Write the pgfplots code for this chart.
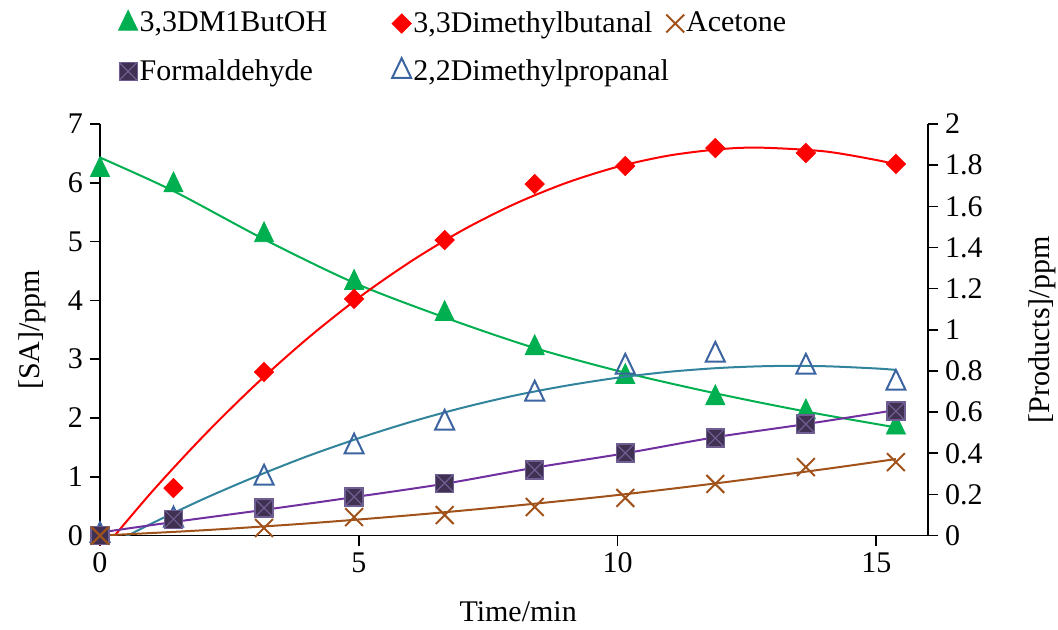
\documentclass[border=0pt]{standalone}
\usepackage{pgfplots}
\pgfplotsset{compat=1.18}
\usepackage{fontspec}
\setmainfont{Liberation Serif}
\definecolor{cgreen}{HTML}{00B050}
\definecolor{cred}{HTML}{FF0000}
\definecolor{cbrown}{HTML}{A0521A}
\definecolor{cteal}{HTML}{31849B}
\definecolor{cblue}{HTML}{3C64A0}
\definecolor{cpurple}{HTML}{7030A0}
\definecolor{csqfill}{HTML}{403152}
\definecolor{csqx}{HTML}{6E5E92}
\begin{document}
\begin{tikzpicture}[font=\fontsize{15}{18}\selectfont]
\useasboundingbox (-50pt,-47.2pt) rectangle (479pt,267.8pt);
\begin{axis}[
  at={(0,0)}, anchor=south west, scale only axis,
  width=414pt, height=205.8pt,
  xmin=0, xmax=16, ymin=0, ymax=7,
  axis x line*=bottom, axis y line*=left,
  axis line style={-, line width=0.8pt, black},
  xtick={0,5,10,15}, ytick={0,1,2,3,4,5,6,7},
  tick align=outside, major tick length=5pt,
  tick style={line width=0.8pt, black},
  /pgf/number format/assume math mode=true,
  xlabel={Time/min}, ylabel={[SA]/ppm},
  every axis x label/.style={at={(axis description cs:0.505,-0.185)}, anchor=center},
  every axis y label/.style={at={(axis description cs:-0.082,0.5)}, anchor=center, rotate=90},
]
\addplot[cgreen, line width=1pt, smooth] coordinates {
(0,6.43) (1.42,5.86) (3.17,5.04) (4.91,4.30) (6.66,3.71) (8.40,3.19) (10.15,2.77) (11.89,2.42) (13.64,2.11) (15.38,1.84)};
\addplot[only marks, mark=triangle*, mark size=5.5pt, mark options={yscale=1.2, fill=cgreen, draw=cgreen}] coordinates {
(0,6.22) (1.42,5.96) (3.17,5.11) (4.91,4.30) (6.66,3.77) (8.40,3.19) (10.15,2.70) (11.89,2.34) (13.64,2.10) (15.38,1.84)};
\end{axis}
\begin{axis}[
  at={(0,0)}, anchor=south west, scale only axis,
  width=414pt, height=205.8pt,
  xmin=0, xmax=16, ymin=0, ymax=2,
  axis x line=none, axis y line*=right,
  axis line style={-, line width=0.8pt, black},
  ytick={0,0.2,0.4,0.6,0.8,1,1.2,1.4,1.6,1.8,2},
  tick align=outside, major tick length=5pt,
  tick style={line width=0.8pt, black},
  /pgf/number format/assume math mode=true,
  yticklabel style={/pgf/number format/fixed},
  ylabel={[Products]/ppm},
  every axis y label/.style={at={(axis description cs:1.138,0.5)}, anchor=center, rotate=90},
  legend columns=3,
  legend cell align=left,
  legend style={at={(axis description cs:0.019,1.186)}, anchor=west, draw=none, fill=none,
    inner sep=0pt, nodes={inner sep=1pt}, row sep=10pt, column sep=0pt},
  legend image code/.code={\path[draw=none,fill=none] (0pt,-5pt) rectangle (10pt,5pt); \draw[#1] plot coordinates {(6pt,0pt)};},
]
% 3,3Dimethylbutanal
\addplot[cred, line width=1pt, smooth, forget plot] coordinates {
(0,-0.085) (1,0.212) (2,0.484) (3,0.732) (4,0.956) (5,1.156) (6,1.331) (7,1.483) (8,1.610) (9,1.713) (10,1.792) (11,1.847) (12,1.878) (12.77,1.885) (14,1.867) (15,1.825) (15.38,1.803)};
\addplot[only marks, mark=square*, mark size=3.4pt, mark options={rotate=45, fill=cred, draw=cred}, forget plot] coordinates {
(0,0) (1.42,0.231) (3.17,0.795) (4.91,1.150) (6.66,1.436) (8.40,1.708) (10.15,1.796) (11.89,1.883) (13.64,1.859) (15.38,1.806)};
% 2,2Dimethylpropanal
\addplot[cteal, line width=1pt, smooth, forget plot] coordinates {
(0,-0.069) (1,0.059) (2,0.178) (3,0.286) (4,0.385) (5,0.473) (6,0.552) (7,0.621) (8,0.680) (9,0.728) (10,0.767) (11,0.796) (12,0.815) (13,0.824) (14,0.823) (15,0.812) (15.38,0.805)};
\addplot[only marks, mark=triangle, mark size=5.5pt, mark options={yscale=1.2, draw=cblue, line width=1pt}, forget plot] coordinates {
(0,0) (1.42,0.076) (3.17,0.280) (4.91,0.431) (6.66,0.547) (8.40,0.688) (10.15,0.819) (11.89,0.877) (13.64,0.819) (15.38,0.741)};
% Formaldehyde
\addplot[cpurple, line width=1pt, smooth, forget plot] coordinates {
(0,0.015) (1.42,0.066) (3.17,0.125) (4.91,0.187) (6.66,0.252) (8.40,0.330) (10.15,0.400) (11.89,0.478) (13.64,0.542) (15.38,0.610)};
\addplot[only marks, mark=square*, mark size=4.5pt, mark options={fill=csqfill, draw=csqx, line width=0.6pt}, forget plot] coordinates {
(0,0) (1.42,0.080) (3.17,0.134) (4.91,0.188) (6.66,0.255) (8.40,0.319) (10.15,0.401) (11.89,0.474) (13.64,0.542) (15.38,0.605)};
\addplot[only marks, mark=x, mark size=6.3pt, mark options={draw=csqx, line width=0.6pt}, forget plot] coordinates {
(0,0) (1.42,0.080) (3.17,0.134) (4.91,0.188) (6.66,0.255) (8.40,0.319) (10.15,0.401) (11.89,0.474) (13.64,0.542) (15.38,0.605)};
% Acetone
\addplot[cbrown, line width=1pt, smooth, forget plot] coordinates {
(0,0) (2,0.026) (4,0.059) (6,0.099) (8,0.145) (10,0.197) (12,0.257) (14,0.323) (15.38,0.372)};
\addplot[only marks, mark=x, mark size=6.3pt, mark options={draw=cbrown, line width=1pt}, forget plot] coordinates {
(0,0) (1.42,-0.010) (3.17,0.037) (4.91,0.090) (6.66,0.100) (8.40,0.139) (10.15,0.183) (11.89,0.251) (13.64,0.333) (15.38,0.357)};
% legend
\addlegendimage{mark=triangle*, mark size=5.5pt, mark options={yscale=1.2, fill=cgreen, draw=cgreen}}
\addlegendentry{\makebox[124pt][l]{3,3DM1ButOH}}
\addlegendimage{mark=square*, mark size=3.4pt, mark options={rotate=45, fill=cred, draw=cred}}
\addlegendentry{\makebox[124pt][l]{3,3Dimethylbutanal}}
\addlegendimage{mark=x, mark size=6.3pt, mark options={draw=cbrown, line width=1pt}}
\addlegendentry{\makebox[124pt][l]{Acetone}}
\addlegendimage{legend image code/.code={\path[draw=none,fill=none] (0pt,-5pt) rectangle (10pt,5pt);
  \draw plot[mark=square*, mark size=4.5pt, mark options={fill=csqfill, draw=csqx, line width=0.6pt}] coordinates {(6pt,0pt)};
  \draw plot[mark=x, mark size=6.3pt, mark options={draw=csqx, line width=0.6pt}] coordinates {(6pt,0pt)};}}
\addlegendentry{\makebox[124pt][l]{Formaldehyde}}
\addlegendimage{mark=triangle, mark size=5.5pt, mark options={yscale=1.2, draw=cblue, line width=1pt}}
\addlegendentry{\makebox[124pt][l]{2,2Dimethylpropanal}}
\end{axis}
\end{tikzpicture}
\end{document}
